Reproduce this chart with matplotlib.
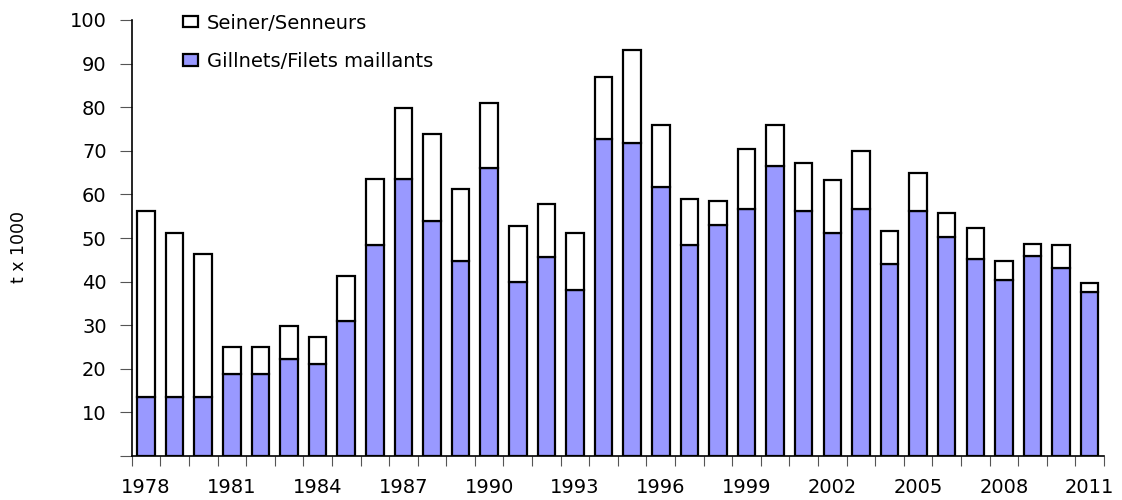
import numpy as np
import matplotlib
matplotlib.use('Agg')
from matplotlib import pyplot as plt

plt.rcParams['font.family'] = ['DejaVu Sans']

years = list(range(1978, 2012))
# total catch (top of stacked bar) and gillnet part, t x 1000
total = [56.2, 51.1, 46.3, 25.1, 25.1, 29.8, 27.4, 41.2, 63.6, 79.8,
         73.9, 61.3, 81.0, 52.7, 57.8, 51.1, 86.9, 93.2, 75.9, 58.9,
         58.6, 70.4, 75.9, 67.3, 63.3, 70.0, 51.5, 64.9, 55.8, 52.3,
         44.8, 48.7, 48.3, 39.7]
gillnets = [13.6, 13.6, 13.6, 18.8, 18.8, 22.2, 21.1, 31.0, 48.3, 63.6,
            53.9, 44.7, 66.1, 40.0, 45.6, 38.1, 72.7, 71.9, 61.7, 48.3,
            53.0, 56.6, 66.4, 56.2, 51.1, 56.7, 44.0, 56.2, 50.3, 45.2,
            40.4, 45.9, 43.1, 37.7]
seiners = [t - g for t, g in zip(total, gillnets)]

fig = plt.figure(figsize=(11.22, 5), dpi=100)
ax = fig.add_axes([0.1174, 0.088, 0.8666, 0.872])

x = np.arange(len(years))
ax.bar(x, gillnets, width=0.61, color='#9999FF', edgecolor='black',
       linewidth=1.6, label='Gillnets/Filets maillants')
ax.bar(x, seiners, width=0.61, bottom=gillnets, color='white',
       edgecolor='black', linewidth=1.6, label='Seiner/Senneurs')

ax.set_xlim(-0.5, len(years) - 0.5)
ax.set_ylim(0, 100)

# y axis
ax.set_yticks(np.arange(0, 101, 10))
ax.set_yticklabels([''] + [str(v) for v in range(10, 101, 10)])
ax.set_ylabel('t x 1000', fontsize=12.5)
ax.yaxis.set_label_coords(-0.107, 0.48)

# x axis: ticks between bars, labels every 3 years
ax.set_xticks(np.arange(-0.5, len(years), 1))
ax.set_xticklabels([])
ax.set_xticks(x[::3], minor=True)
ax.set_xticklabels([str(y) for y in years[::3]], minor=True)
ax.tick_params(axis='x', which='minor', length=0, pad=16, labelsize=14)
ax.tick_params(axis='x', which='major', direction='out', length=7, color='#555555')
ax.tick_params(axis='y', direction='out', length=9, labelsize=14, pad=9, color='#555555')

for side in ['top', 'right']:
    ax.spines[side].set_visible(False)
ax.spines['left'].set_linewidth(1.2)
ax.spines['bottom'].set_linewidth(1.2)

handles, labels = ax.get_legend_handles_labels()
ax.legend(handles[::-1], labels[::-1], loc='upper left', bbox_to_anchor=(0.035, 1.055),
          frameon=False, fontsize=14, handlelength=0.75, handleheight=0.55,
          handletextpad=0.45, labelspacing=1.0)

fig.savefig('out.png', dpi=100)
